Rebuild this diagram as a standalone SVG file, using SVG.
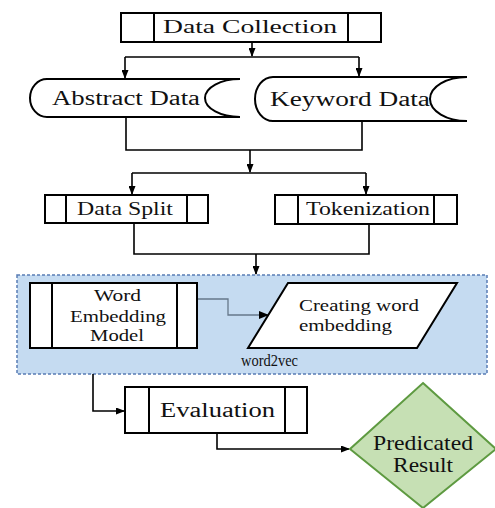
<svg xmlns="http://www.w3.org/2000/svg" width="495" height="508" viewBox="0 0 495 508">
<style>
.box{fill:#fff;stroke:#000;stroke-width:2}
.il{stroke:#000;stroke-width:2}
.c{fill:none;stroke:#000;stroke-width:1.6}
text{fill:#111;font-family:'Liberation Serif','Times New Roman',serif}
</style>
<defs>
<marker id="ah" markerWidth="9" markerHeight="7" refX="8" refY="3.5" orient="auto" markerUnits="userSpaceOnUse">
<path d="M0,0 L9,3.5 L0,7 z" fill="#000"/>
</marker>
<marker id="ahg" markerWidth="10" markerHeight="8" refX="9" refY="4" orient="auto" markerUnits="userSpaceOnUse">
<path d="M0,0 L10,4 L0,8 z" fill="#000"/>
</marker>
</defs>
<rect id="word2vec-region" x="17" y="275" width="470" height="99" fill="#c5dbf1" stroke="#5a7db5" stroke-width="1.5" stroke-dasharray="3,2"/>
<g id="connectors">
<path class="c" d="M252,42 V56" marker-end="url(#ah)"/>
<path class="c" d="M125,57 H359"/>
<path class="c" d="M125,57 V78" marker-end="url(#ah)"/>
<path class="c" d="M359,57 V76" marker-end="url(#ah)"/>
<path class="c" d="M126,117 V150 H362 V121"/>
<path class="c" d="M250,150 V172" marker-end="url(#ah)"/>
<path class="c" d="M132,173 H366"/>
<path class="c" d="M132,173 V194" marker-end="url(#ah)"/>
<path class="c" d="M366,173 V194" marker-end="url(#ah)"/>
<path class="c" d="M134,223 V254 H369 V224"/>
<path class="c" d="M256,254 V274" marker-end="url(#ah)"/>
<path d="M185,299 H228 V315 H268" fill="none" stroke="#66788a" stroke-width="1.3" marker-end="url(#ahg)"/>
<path class="c" d="M93,374 V411 H124" marker-end="url(#ah)"/>
<path class="c" d="M217,433 V449 H349" marker-end="url(#ah)"/>
</g>
<g id="data-collection">
<rect class="box" x="121" y="13" width="260" height="29"/>
<line class="il" x1="154" y1="13" x2="154" y2="42"/>
<line class="il" x1="348" y1="13" x2="348" y2="42"/>
<text x="163" y="33" font-size="19" textLength="174" lengthAdjust="spacingAndGlyphs">Data Collection</text>
</g>
<g id="abstract-data">
<path class="box" d="M47,79 H240 A35,19 0 0 0 240,117 H47 A17,19 0 0 1 47,79 Z"/>
<text x="52" y="105" font-size="20" textLength="148" lengthAdjust="spacingAndGlyphs">Abstract Data</text>
</g>
<g id="keyword-data">
<path class="box" d="M273,77 H467 A37,22 0 0 0 467,121 H273 A18,22 0 0 1 273,77 Z"/>
<text x="270" y="106" font-size="20" textLength="160" lengthAdjust="spacingAndGlyphs">Keyword Data</text>
</g>
<g id="data-split">
<rect class="box" x="45" y="195" width="163" height="28"/>
<line class="il" x1="66" y1="195" x2="66" y2="223"/>
<line class="il" x1="187" y1="195" x2="187" y2="223"/>
<text x="77" y="215" font-size="19" textLength="96" lengthAdjust="spacingAndGlyphs">Data Split</text>
</g>
<g id="tokenization">
<rect class="box" x="275" y="195" width="182" height="29"/>
<line class="il" x1="298" y1="195" x2="298" y2="224"/>
<line class="il" x1="434" y1="195" x2="434" y2="224"/>
<text x="306" y="215" font-size="19" textLength="124" lengthAdjust="spacingAndGlyphs">Tokenization</text>
</g>
<g id="word-embedding-model">
<rect class="box" x="30" y="283" width="167" height="65"/>
<line class="il" x1="52" y1="283" x2="52" y2="348"/>
<line class="il" x1="177" y1="283" x2="177" y2="348"/>
<text x="94" y="301" font-size="16" textLength="47" lengthAdjust="spacingAndGlyphs">Word</text>
<text x="70" y="322" font-size="16" textLength="96" lengthAdjust="spacingAndGlyphs">Embedding</text>
<text x="90" y="341" font-size="16" textLength="54" lengthAdjust="spacingAndGlyphs">Model</text>
</g>
<g id="creating-word-embedding">
<polygon class="box" points="288,283 457,283 417,348 248,348"/>
<text x="299" y="311" font-size="16" textLength="120" lengthAdjust="spacingAndGlyphs">Creating word</text>
<text x="299" y="331" font-size="16" textLength="93" lengthAdjust="spacingAndGlyphs">embedding</text>
</g>
<text id="word2vec-label" x="241" y="366" font-size="16" textLength="57" lengthAdjust="spacingAndGlyphs">word2vec</text>
<g id="evaluation">
<rect class="box" x="125" y="387" width="182" height="46"/>
<line class="il" x1="149" y1="387" x2="149" y2="433"/>
<line class="il" x1="285" y1="387" x2="285" y2="433"/>
<text x="160" y="417" font-size="20" textLength="115" lengthAdjust="spacingAndGlyphs">Evaluation</text>
</g>
<g id="predicated-result">
<polygon points="423,383 496,449 423,508 350,449" fill="#c6e0b4" stroke="#5e9a41" stroke-width="2"/>
<text x="373" y="450" font-size="21" textLength="100" lengthAdjust="spacingAndGlyphs">Predicated</text>
<text x="393" y="472" font-size="21" textLength="60" lengthAdjust="spacingAndGlyphs">Result</text>
</g>
</svg>
